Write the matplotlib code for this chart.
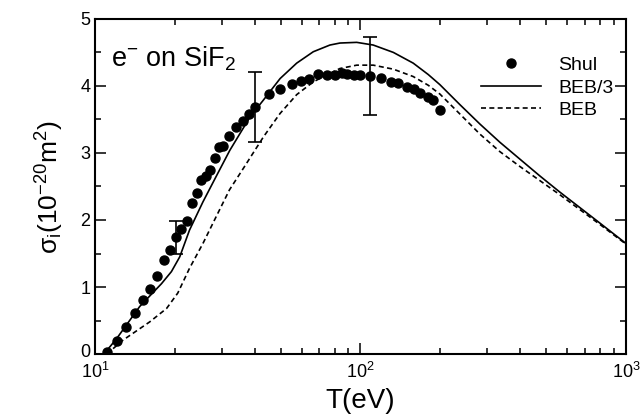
import matplotlib
matplotlib.use("Agg")
import matplotlib.pyplot as plt
from matplotlib.ticker import MultipleLocator, LogLocator
from matplotlib.transforms import ScaledTranslation

# ------------------------------------------------------
# Data
# ------------------------------------------------------

# Shul measurements
shul_T = [11.1, 12.1, 13.1, 14.1, 15.1, 16.1, 17.1, 18.2, 19.1, 20.1,
          21.1, 22.2, 23.2, 24.2, 25.1, 26.1, 27.2, 28.2, 29.3, 30.3,
          32.1, 34.0, 36.0, 38.1, 40.2, 45.1, 49.8, 55.1, 59.6, 64.0,
          69.3, 75.0, 80.1, 85.4, 89.1, 94.4, 100, 109, 119, 130,
          139, 150, 159, 168, 179, 188, 200]
shul_sigma = [0.03, 0.20, 0.41, 0.62, 0.80, 0.97, 1.17, 1.40, 1.55, 1.74,
              1.87, 1.99, 2.26, 2.41, 2.59, 2.66, 2.75, 2.92, 3.09, 3.11,
              3.25, 3.38, 3.47, 3.58, 3.68, 3.88, 3.95, 4.03, 4.07, 4.11,
              4.18, 4.17, 4.17, 4.20, 4.18, 4.16, 4.16, 4.15, 4.12, 4.06,
              4.04, 3.98, 3.95, 3.90, 3.84, 3.79, 3.64]

# error bars on a few points
err_T = [20.1, 40.2, 109]
err_sigma = [1.74, 3.69, 4.15]
err_size = [0.25, 0.52, 0.58]

# BEB/3 (solid)
beb3_T = [10.8, 12.06, 14.74, 17.8, 19.4, 20.85, 22.7, 25.5, 28.6, 32.2,
          38.4, 43.1, 49.8, 57.5, 66.4, 76.7, 83.7, 96.8, 111.7, 133,
          158, 180, 199, 237, 282, 335, 398, 473, 562, 668,
          794, 1000]
beb3_sigma = [0.0, 0.23, 0.71, 1.05, 1.23, 1.45, 1.85, 2.27, 2.65, 3.04,
              3.54, 3.79, 4.11, 4.34, 4.51, 4.61, 4.64, 4.65, 4.61, 4.50,
              4.34, 4.17, 4.02, 3.72, 3.43, 3.16, 2.91, 2.66, 2.42, 2.19,
              1.96, 1.65]

# BEB (dashed)
beb_T = [11.07, 12.77, 16.07, 18.6, 20.5, 22.7, 25.5, 28.6, 32.1, 36.2,
         43.1, 49.8, 57.5, 66.4, 76.7, 83.7, 96.8, 111.7, 133, 158,
         180, 199, 237, 282, 335, 398, 473, 562, 668, 794,
         1000]
beb_sigma = [0.0, 0.21, 0.48, 0.68, 0.91, 1.28, 1.65, 2.05, 2.45, 2.77,
             3.24, 3.59, 3.87, 4.06, 4.19, 4.26, 4.31, 4.31, 4.25, 4.14,
             4.01, 3.88, 3.58, 3.28, 3.02, 2.80, 2.59, 2.38, 2.16, 1.94,
             1.64]

# ------------------------------------------------------
# Style
# ------------------------------------------------------

plt.rcParams["font.family"] = ["Liberation Sans", "DejaVu Sans"]
plt.rcParams["mathtext.fontset"] = "custom"
plt.rcParams["mathtext.rm"] = "Liberation Sans"
plt.rcParams["mathtext.it"] = "Liberation Sans:italic"
plt.rcParams["mathtext.bf"] = "Liberation Sans:bold"

fig = plt.figure(figsize=(6.42, 4.2), dpi=100)
ax = fig.add_axes([0.148, 0.157, 0.827, 0.798])

# ------------------------------------------------------
# Draw
# ------------------------------------------------------

ax.plot(shul_T, shul_sigma, "o", color="black", markersize=6.5,
        label="Shul", zorder=3)
ax.plot(beb3_T, beb3_sigma, "-", color="black", linewidth=1.2,
        label="BEB/3")
ax.plot(beb_T, beb_sigma, color="black", linewidth=1.2,
        linestyle=(0, (3, 2)), label="BEB")

ax.errorbar(err_T, err_sigma, yerr=err_size, fmt="none", ecolor="black",
            elinewidth=1.2, capsize=5, capthick=1.2)

# ------------------------------------------------------
# Axes
# ------------------------------------------------------

ax.set_xscale("log")
ax.set_xlim(10, 1000)
ax.set_ylim(0, 5)

ax.set_yticks([0, 1, 2, 3, 4, 5])
ax.yaxis.set_minor_locator(MultipleLocator(0.5))
ax.xaxis.set_major_locator(LogLocator(base=10))
ax.xaxis.set_minor_locator(LogLocator(base=10, subs=range(2, 10)))

ax.tick_params(which="both", direction="in", top=True, right=True,
               labelsize=13, width=1.1)
ax.tick_params(which="major", length=8)
ax.tick_params(which="minor", length=4)
ax.tick_params(axis="x", pad=6)

for spine in ax.spines.values():
    spine.set_linewidth(1.5)

# lift the "0" label a little, as in the original
zero_label = ax.yaxis.get_major_ticks()[0].label1
zero_label.set_transform(zero_label.get_transform()
                         + ScaledTranslation(0, 2.5 / 72, fig.dpi_scale_trans))

ax.set_xlabel("T(eV)", fontsize=20, labelpad=4)
ax.set_ylabel("σ$_\\mathrm{i}$(10$^{-20}$m$^2$)", fontsize=19, labelpad=10)

ax.text(0.03, 0.88, "e$^{-}$ on SiF$_2$", transform=ax.transAxes,
        fontsize=19.5, va="center", ha="left")

ax.legend(loc="upper right", bbox_to_anchor=(1.01, 0.94), frameon=False,
          fontsize=14, handlelength=3.1, numpoints=1, labelspacing=0.25,
          handletextpad=0.9)

fig.savefig("out.png", dpi=100)
